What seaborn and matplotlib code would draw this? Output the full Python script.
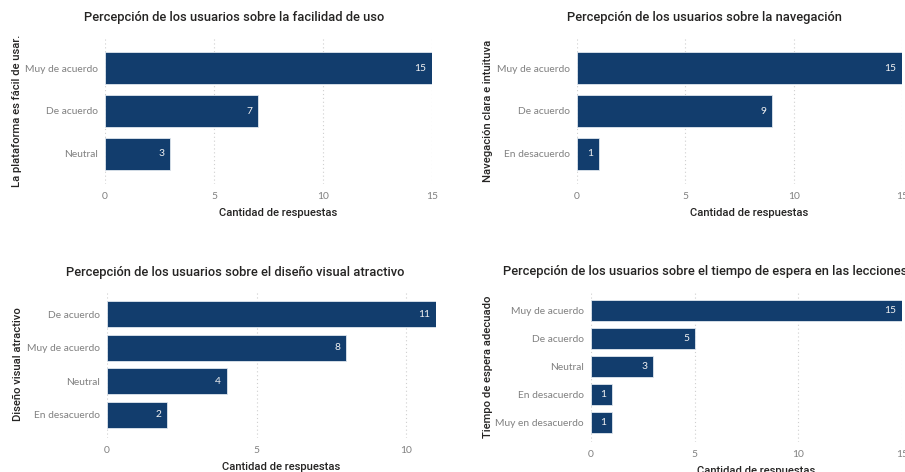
import matplotlib
matplotlib.use("Agg")
import matplotlib.pyplot as plt
import seaborn as sns
import pandas as pd

# ---- data ----
titles = [
    "Percepción de los usuarios sobre la facilidad de uso",
    "Percepción de los usuarios sobre la navegación",
    "Percepción de los usuarios sobre el diseño visual atractivo",
    "Percepción de los usuarios sobre el tiempo de espera en las lecciones",
]
ylabels = [
    "La plataforma es fácil de usar.",
    "Navegación clara e intuituva",
    "Diseño visual atractivo",
    "Tiempo de espera adecuado",
]
xlabel = "Cantidad de respuestas"

cats_facilidad = ["Muy de acuerdo", "De acuerdo", "Neutral"]
vals_facilidad = [15, 7, 3]

cats_navegacion = ["Muy de acuerdo", "De acuerdo", "En desacuerdo"]
vals_navegacion = [15, 9, 1]

cats_diseno = ["De acuerdo", "Muy de acuerdo", "Neutral", "En desacuerdo"]
vals_diseno = [11, 8, 4, 2]

cats_tiempo = ["Muy de acuerdo", "De acuerdo", "Neutral", "En desacuerdo", "Muy en desacuerdo"]
vals_tiempo = [15, 5, 3, 1, 1]

xticks_vals = [0, 5, 10, 15]

panels = [
    (cats_facilidad, vals_facilidad),
    (cats_navegacion, vals_navegacion),
    (cats_diseno, vals_diseno),
    (cats_tiempo, vals_tiempo),
]

# ---- layout (pixel geometry) ----
W, H = 905, 472
# (left, right, top, bottom) in pixels, xmax
geom = [
    (105, 432, 38, 184, 15),
    (577, 902, 38, 184, 15),
    (107, 436, 291, 438, 11),
    (591, 902, 291, 442, 15),
]
title_pos = [(234, 18), (704, 18), (235, 272), (503, 272)]
title_ha = ["center", "center", "center", "left"]
ylabel_x = [17, 488, 18, 488]
bar_w = [0.74, 0.74, 0.78, 0.75]

sns.set_theme(style="white")
plt.rcParams["font.family"] = ["Roboto", "DejaVu Sans"]

BAR = "#123D6D"
TXT = "#252423"
TICK = "#808080"
TICKFONT = ["Lato", "DejaVu Sans"]

fig = plt.figure(figsize=(W / 100, H / 100), dpi=100)
fig.patch.set_facecolor("white")

for i, ((cats, vals), (l, r, t, b, xmax)) in enumerate(zip(panels, geom)):
    ax = fig.add_axes([l / W, (H - b) / H, (r - l) / W, (b - t) / H])
    df = pd.DataFrame({"cat": cats, "val": vals})
    sns.barplot(data=df, x="val", y="cat", orient="h", color=BAR,
                saturation=1, width=bar_w[i], edgecolor="#dfe6ee",
                linewidth=0.6, ax=ax, zorder=2)
    n = len(cats)
    ax.set_ylim(n - 1 + 0.7, -0.7)
    ax.set_xlim(0, xmax)
    ax.set_xticks([v for v in xticks_vals if v <= xmax])
    ax.set_xticklabels([str(v) for v in xticks_vals if v <= xmax])
    ax.grid(axis="x", color="#cfcfcf", linestyle=(0, (1, 2.5)), linewidth=0.8, zorder=0)
    ax.grid(axis="y", visible=False)
    for s in ax.spines.values():
        s.set_visible(False)
    ax.tick_params(axis="x", length=0, pad=6, labelsize=7.4, labelcolor=TICK)
    ax.tick_params(axis="y", length=0, pad=5, labelsize=7.4, labelcolor=TICK)
    for lab in ax.get_xticklabels() + ax.get_yticklabels():
        lab.set_fontfamily(TICKFONT)
    ax.set_xlabel("")
    ax.set_ylabel("")
    # value labels inside bar ends
    for j, v in enumerate(vals):
        ax.annotate(str(v), xy=(v, j), xytext=(-4, 0), textcoords="offset points",
                    ha="right", va="center", color="#f2f2f2", fontsize=7.4,
                    fontfamily=TICKFONT, zorder=3)
    # x label
    xc = (l + r) / 2 + 10
    fig.text(xc / W, 1 - (b + 29) / H, xlabel, ha="center", va="center",
             fontsize=8.1, color=TXT, fontweight="medium")
    # y label
    fig.text(ylabel_x[i] / W, 1 - ((t + b) / 2) / H, ylabels[i], rotation=90,
             ha="center", va="center", fontsize=8.1, color=TXT, fontweight="medium")
    # title
    tx, ty = title_pos[i]
    fig.text(tx / W, 1 - ty / H, titles[i], ha=title_ha[i], va="center",
             fontsize=9.25, color=TXT, fontweight="medium")

fig.savefig("out.png", dpi=100)
